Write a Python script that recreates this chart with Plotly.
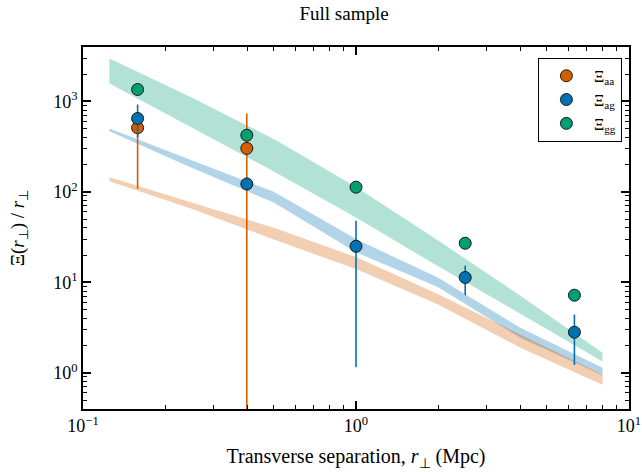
import plotly.graph_objects as go

# ---- data ----
band_x = [0.125, 0.25, 0.5, 1.0, 2.0, 4.0, 8.0]
gg_band_hi = [2970, 1100, 383, 113, 29, 7.1, 1.67]
gg_band_lo = [1574, 513, 168, 52, 15, 4.5, 1.33]
ag_band_hi = [502, 223, 100, 30, 11.2, 3.14, 1.135]
ag_band_lo = [468, 184, 76, 21.5, 8.8, 2.44, 0.94]
aa_band_hi = [145, 75.5, 40, 19, 7.4, 2.65, 0.96]
aa_band_lo = [131, 65, 29.7, 14, 5.7, 1.89, 0.74]

r_pts = [0.1585, 0.3981, 1.0, 2.512, 6.310]
aa_y = [510, 302]
aa_hi = [640, 734]
aa_lo = [108, 0.05]
ag_y = [646, 122, 25, 11.3, 2.81]
ag_hi = [922, 135, 48, 15.3, 4.4]
ag_lo = [400, 110, 1.15, 7.2, 1.22]
gg_y = [1350, 422, 112.5, 27, 7.2]

x_ticks = [0.1, 1, 10]
x_tick_text = ["10<sup>−1</sup>", "10<sup>0</sup>", "10<sup>1</sup>"]
y_ticks = [1, 10, 100, 1000]
y_tick_text = ["10<sup>0</sup>", "10<sup>1</sup>", "10<sup>2</sup>", "10<sup>3</sup>"]

C_AA = "#D55E00"
C_AG = "#0072B2"
C_GG = "#009E73"

def rgba(hexc, a):
    h = hexc.lstrip("#")
    return "rgba(%d,%d,%d,%s)" % (int(h[0:2], 16), int(h[2:4], 16), int(h[4:6], 16), a)

fig = go.Figure()

for hi, lo, c in [(gg_band_hi, gg_band_lo, C_GG), (ag_band_hi, ag_band_lo, C_AG), (aa_band_hi, aa_band_lo, C_AA)]:
    fig.add_trace(go.Scatter(
        x=band_x + band_x[::-1], y=hi + lo[::-1], mode="lines", fill="toself",
        fillcolor=rgba(c, 0.3), line=dict(width=0), hoverinfo="skip", showlegend=False))

def pts(xv, yv, hi, lo, c, name):
    kw = {}
    if hi:
        plus = [h - y for h, y in zip(hi, yv)]
        minus = [y - l for l, y in zip(lo, yv)]
        kw["error_y"] = dict(type="data", symmetric=False, array=plus, arrayminus=minus,
                             color=c, thickness=1.6, width=0)
    fig.add_trace(go.Scatter(x=xv, y=yv, mode="markers", name=name,
                             marker=dict(size=12, color=c, line=dict(color="#1a1a1a", width=1)),
                             **kw))

pts(r_pts[:2], aa_y, aa_hi, aa_lo, C_AA, "Ξ<sub>aa</sub>")
pts(r_pts, ag_y, ag_hi, ag_lo, C_AG, "Ξ<sub>ag</sub>")
pts(r_pts, gg_y, None, None, C_GG, "Ξ<sub>gg</sub>")

FONT = "Liberation Serif"
axis_common = dict(type="log", showline=True, linecolor="black", linewidth=1.5,
                   mirror="ticks", ticks="inside", ticklen=8, tickwidth=1.5, tickcolor="black",
                   showgrid=False, zeroline=False, automargin=False,
                   minor=dict(ticks="inside", ticklen=4, tickwidth=1.2, tickcolor="black",
                              dtick="D1", showgrid=False),
                   tickfont=dict(family=FONT, size=18, color="black"))

fig.update_xaxes(range=[-1, 1], tickvals=x_ticks, ticktext=x_tick_text,
                 title=dict(text="Transverse separation, <i>r</i><sub>⊥</sub> (Mpc)",
                            font=dict(family=FONT, size=20, color="black"), standoff=14),
                 **axis_common)
fig.update_yaxes(range=[-0.4, 3.6], tickvals=y_ticks, ticktext=y_tick_text,
                 title=dict(text="Ξ(<i>r</i><sub>⊥</sub>) / <i>r</i><sub>⊥</sub>",
                            font=dict(family=FONT, size=19, color="black"), standoff=24),
                 **axis_common)

fig.update_layout(
    width=642, height=472,
    margin=dict(l=83, r=13, t=47, b=63, autoexpand=False),
    paper_bgcolor="white", plot_bgcolor="white",
    title=dict(text="Full sample", x=0.536, xanchor="center", y=0.985, yanchor="top",
               font=dict(family=FONT, size=19, color="black")),
    legend=dict(x=0.987, xanchor="right", y=0.97, yanchor="top",
                bordercolor="black", borderwidth=1, bgcolor="white", itemwidth=45,
                font=dict(family=FONT, size=16, color="black")),
    font=dict(family=FONT, color="black"),
)

fig.write_html("out.html", config={"displayModeBar": False},
               post_script="document.body.style.margin='0';")
